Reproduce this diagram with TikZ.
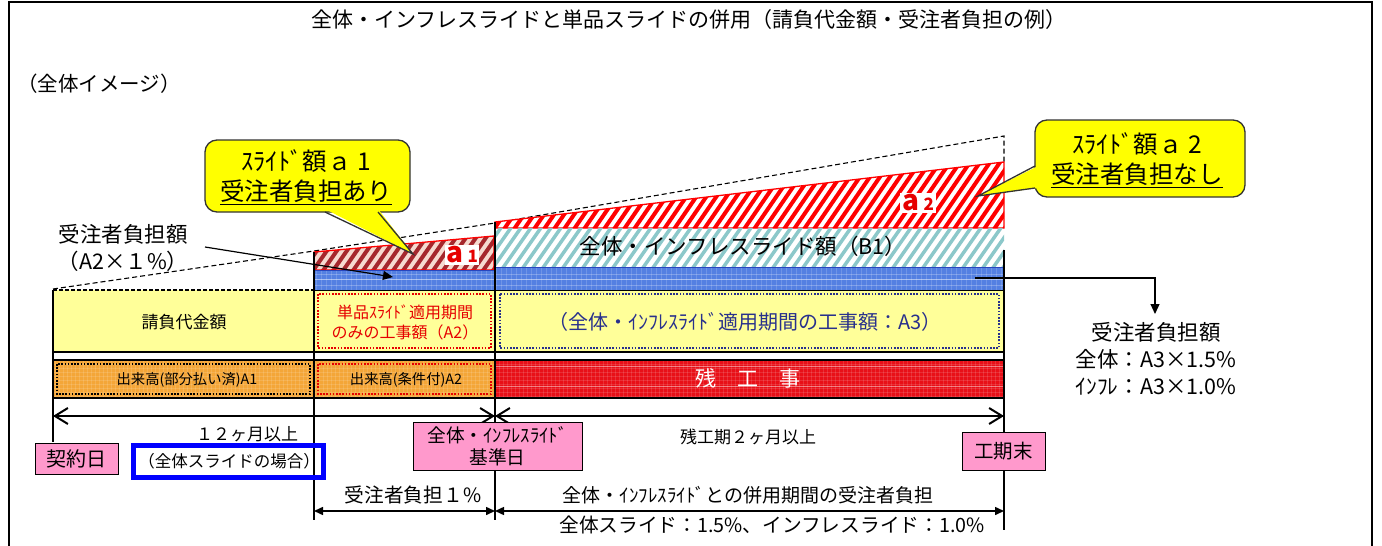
\documentclass[tikz,border=0pt]{standalone}
\usepackage{fontspec}
\setmainfont{Noto Sans CJK JP}
\usetikzlibrary{arrows.meta}
\definecolor{lyellow}{RGB}{255,255,153}
\definecolor{callyel}{RGB}{255,255,0}
\definecolor{pinkc}{RGB}{255,153,204}
\definecolor{bandblue}{RGB}{84,128,226}
\definecolor{bandedge}{RGB}{40,70,190}
\definecolor{orangec}{RGB}{244,166,56}
\definecolor{redc}{RGB}{232,16,24}
\definecolor{navyc}{RGB}{40,48,140}
\definecolor{tealc}{RGB}{140,200,202}
\definecolor{a1bg}{RGB}{246,218,208}
\definecolor{a1str}{RGB}{165,40,45}
\definecolor{redtxt}{RGB}{230,0,0}
\definecolor{bluerect}{RGB}{0,0,255}
\newcommand\fsz[2]{\fontsize{#1}{#2}\selectfont}
\begin{document}
\begin{tikzpicture}[x=1pt,y=-1pt,
  pinkbox/.style={draw=black, line width=1pt, fill=pinkc, inner sep=0pt, align=center},
  dotbox/.style={line width=2pt, dash pattern=on 1.6pt off 1.6pt},
  txt/.style={inner sep=0pt, align=center},
  callout/.style={fill=callyel, draw=black!80, line width=1.3pt},
  dimline/.style={line width=2pt, {Straight Barb[length=13pt,width=16pt,line width=2pt]}-{Straight Barb[length=13pt,width=16pt,line width=2pt]}},
  dimsmall/.style={line width=1.5pt, {Triangle[length=9pt,width=8pt]}-{Triangle[length=9pt,width=8pt]}},
  ptr/.style={line width=1.2pt, -{Triangle[length=10pt,width=9pt]}},
  vline/.style={line width=2pt},
  rowline/.style={line width=2pt},
]
\useasboundingbox (0,0) rectangle (1382,546);
% frame
\draw[line width=2pt] (9,546) -- (9,2) -- (1372,2) -- (1372,546);
\node[txt, font=\fsz{21}{25}] (title) at (689,20) {全体・インフレスライドと単品スライドの併用（請負代金額・受注者負担の例）};
\node[txt, font=\fsz{20.5}{24}, anchor=west] (image) at (17,84) {（全体イメージ）};

% dashed envelope
\draw[line width=1.1pt, dash pattern=on 5pt off 3pt] (53,289) -- (314,251) -- (495,223) -- (1004,136) -- (1004,162);

% a2 hatch
\begin{scope}
\clip (495,228) -- (495,222) -- (1004,162) -- (1004,228) -- cycle;
\fill[white] (495,150) rectangle (1004,228);
\foreach \i in {420,430,...,1010} \draw[red, line width=4pt] (\i,235) -- ++(55,-80);
\end{scope}
\draw[red, line width=1.3pt] (495,228) -- (495,222) -- (1004,162) -- (1004,228) -- cycle;
% B1 hatch
\begin{scope}
\clip (495,228) rectangle (1004,267);
\foreach \i in {460,470,...,1010} \draw[tealc, line width=3.5pt] (\i,272) -- ++(35,-50);
\end{scope}
% a1 hatch
\begin{scope}
\clip (314,252) -- (494,236) -- (494,270) -- (314,270) -- cycle;
\fill[a1bg] (314,230) rectangle (495,270);
\foreach \i in {270,280,...,500} \draw[a1str, line width=4pt] (\i,275) -- ++(32,-46);
\end{scope}
\draw[red, line width=1.3pt] (314,252) -- (494,236) -- (494,270) -- (314,270) -- cycle;

% blue bands
\fill[bandblue] (314,270) rectangle (495,290);
\fill[bandblue] (495,267) rectangle (1004,290);
\begin{scope}
\clip (314,270) rectangle (495,290) (495,267) rectangle (1004,290);
\foreach \x in {316,321,...,1004} \draw[white, opacity=.16, line width=.6pt] (\x,265) -- (\x,292);
\draw[white, opacity=.5, line width=.9pt] (314,279.5) -- (1004,279.5);
\draw[white, opacity=.25, line width=.6pt] (314,274) -- (1004,274) (314,285) -- (1004,285);
\end{scope}
\draw[bandedge, line width=1pt] (314,270) rectangle (495,290) (495,267) rectangle (1004,290);

% yellow row
\fill[lyellow] (53,290) rectangle (1004,352);
\draw[dotbox, redtxt] (318,294) rectangle (491,348);
\draw[dotbox, navyc] (500,294) rectangle (999,348);
% orange row
\fill[orangec] (53,360) rectangle (495,398);
\fill[redc] (495,360) rectangle (1004,398);
\begin{scope}
\clip (53,360) rectangle (1004,398);
\foreach \x in {55,59,...,1004} \draw[white, opacity=.13, line width=.6pt] (\x,358) -- (\x,400);
\foreach \y in {364,368,...,396} \draw[white, opacity=.13, line width=.6pt] (53,\y) -- (1004,\y);
\draw[white, opacity=.45, line width=1pt] (495,366) -- (1004,366) (495,386) -- (1004,386);
\end{scope}
\draw[dotbox, black] (57,364) rectangle (310,394);
\draw[dotbox, redtxt] (318,364) rectangle (491,394);

% row borders
\draw[line width=1.6pt, dash pattern=on 4pt off 2pt] (53,290) -- (314,290);
\draw[line width=1pt] (314,290) -- (1004,290);
\draw[rowline] (53,352) -- (1004,352);
\draw[rowline] (53,360) -- (1004,360);
\draw[rowline] (53,398) -- (1004,398);
% vertical lines
\draw[vline] (53,290) -- (53,442);
\draw[vline] (314,252) -- (314,520);
\draw[vline] (495,222) -- (495,520);
\draw[vline] (1004,250) -- (1004,530);

% texts in blocks
\node[txt, font=\fsz{17}{20}] (contract) at (184,322) {請負代金額};
\node[txt, font=\fsz{16}{20}, text=redtxt] (a2work) at (405,322) {単品ｽﾗｲﾄﾞ適用期間\\のみの工事額（A2）};
\node[txt, font=\fsz{20}{24}, text=navyc] (a3work) at (745,322) {（全体・ｲﾝﾌﾚｽﾗｲﾄﾞ適用期間の工事額：A3）};
\node[txt, font=\fsz{14.3}{18}] (done1) at (187,380) {出来高(部分払い済)A1};
\node[txt, font=\fsz{14.3}{18}] (done2) at (406,380) {出来高(条件付)A2};
\node[txt, font=\fsz{21}{24}, text=white] (rest) at (748,378) {残　工　事};
\node[txt, font=\fsz{21.5}{24}] (b1) at (743,246) {全体・インフレスライド額（B1）};
\node[fill=white, inner sep=1.5pt, text=redtxt, font=\bfseries] (a1lbl) at (462,255) {\fsz{28}{28}a\,\fsz{17}{17}1};
\node[fill=white, inner sep=2pt, text=redtxt, font=\bfseries] (a2lbl) at (918,203) {\fsz{28}{28}a\,\fsz{17}{17}2};

% callout 1
\node[callout, rounded corners=12pt, minimum width=205pt, minimum height=72pt, inner sep=0pt] (call1) at (307.5,176) {};
\fill[callyel] (325,209) -- (413,254) -- (378,209) -- cycle;
\draw[black!80, line width=1.3pt] (325,212) -- (413,254) -- (378,212);
\node[txt, font=\fsz{24.5}{30}] (call1t) at (306,177) {ｽﾗｲﾄﾞ額ａ 1\\\underline{受注者負担あり}};
% callout 2
\node[callout, rounded corners=12pt, minimum width=210pt, minimum height=77pt, inner sep=0pt] (call2) at (1140,158.5) {};
\fill[callyel] (1038,166) -- (978,196) -- (1038,188) -- cycle;
\draw[black!80, line width=1.3pt] (1035,166) -- (978,196) -- (1035,188);
\node[txt, font=\fsz{24.5}{30}] (call2t) at (1137,160) {ｽﾗｲﾄﾞ額ａ 2\\\underline{受注者負担なし}};

% left burden label
\node[txt, font=\fsz{21.5}{27}] (burdenL) at (123,248) {受注者負担額\\（A2×１\%）};
\coordinate (burdenLarr) at (205,247);
\coordinate (bandA1) at (393,277);
\draw[ptr] (burdenLarr) -- (bandA1);
% right burden label
\coordinate (bandA3) at (975,278);
\node[txt, font=\fsz{21.5}{27}] (burdenR) at (1156,359) {受注者負担額\\全体：A3×1.5\%\\ｲﾝﾌﾚ：A3×1.0\%};
\coordinate (burdenRtop) at (1155,314);
\draw[ptr] (bandA3) -| (burdenRtop);

% dimension lines
\coordinate (d0) at (53,416);
\coordinate (d1) at (495,416);
\coordinate (d2) at (1004,416);
\draw[dimline] (d0) -- (d1);
\draw[dimline] (d1) -- (d2);
\coordinate (e0) at (314,511);
\coordinate (e1) at (495,511);
\coordinate (e2) at (1004,511);
\draw[dimsmall] (e0) -- (e1);
\draw[dimsmall] (e1) -- (e2);

% bottom texts
\node[txt, font=\fsz{17}{20}] (m12) at (247,434) {１２ヶ月以上};
\node[pinkbox, font=\fsz{20}{24}, minimum width=83pt, minimum height=31pt] (start) at (76.5,458.5) {契約日};
\node[draw=bluerect, line width=5pt, minimum width=190pt, minimum height=32pt, inner sep=0pt] (bluebox) at (228,461.5) {};
\node[txt, font=\fsz{16.5}{20}] (whole) at (229,461) {（全体スライドの場合）};
\node[pinkbox, font=\fsz{18.7}{22}, minimum width=169pt, minimum height=48pt] (base) at (497.5,446) {全体・ｲﾝﾌﾚｽﾗｲﾄﾞ\\基準日};
\node[txt, font=\fsz{17}{20}] (m2) at (748,437) {残工期２ヶ月以上};
\node[pinkbox, font=\fsz{19.5}{22}, minimum width=83pt, minimum height=38pt] (end) at (1003.5,451) {工期末};
\node[txt, font=\fsz{19.7}{22}] (b1pc) at (413,495) {受注者負担１\%};
\node[txt, font=\fsz{19}{22}] (bshare) at (748,495) {全体・ｲﾝﾌﾚｽﾗｲﾄﾞとの併用期間の受注者負担};
\node[txt, font=\fsz{19.7}{22}] (bshare2) at (772,525) {全体スライド：1.5\%、インフレスライド：1.0\%};
\end{tikzpicture}
\end{document}
